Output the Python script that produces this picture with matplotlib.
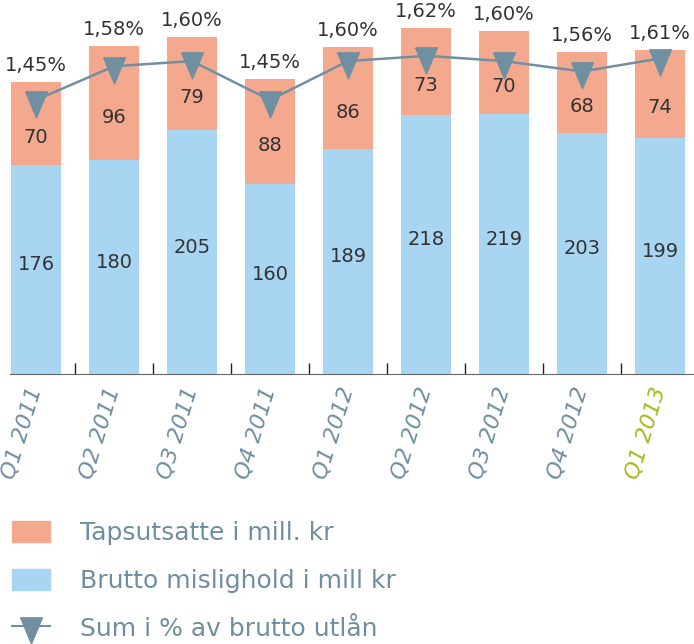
import matplotlib.pyplot as plt
from matplotlib.patches import Patch
from matplotlib.lines import Line2D
import numpy as np

quarters = ["Q1 2011", "Q2 2011", "Q3 2011", "Q4 2011", "Q1 2012",
            "Q2 2012", "Q3 2012", "Q4 2012", "Q1 2013"]
brutto = [176, 180, 205, 160, 189, 218, 219, 203, 199]
tapsutsatte = [70, 96, 79, 88, 86, 73, 70, 68, 74]
sum_pct = [1.45, 1.58, 1.60, 1.45, 1.60, 1.62, 1.60, 1.56, 1.61]

red = "#f4a98e"
blue = "#a8d5f2"
grey_blue = "#7090a2"
label_col = "#6e8fa0"
green = "#a8b820"

# down triangle with the data point in its upper third
tri = [(-1.25, 1), (1.25, 1), (0, -2), (-1.25, 1)]

fig = plt.figure(figsize=(6.94, 6.44), dpi=100)
ax = fig.add_axes([10 / 694, 1 - 374 / 644, 684 / 694, 354 / 644])

x = np.arange(len(quarters))
ax.bar(x, brutto, width=0.64, color=blue, zorder=2)
ax.bar(x, tapsutsatte, width=0.64, bottom=brutto, color=red, zorder=2)

for i in range(len(x)):
    ax.text(x[i], brutto[i] / 2 + 4, str(brutto[i]), ha="center", va="center",
            fontsize=14, color="#333333", zorder=3)
    ax.text(x[i], brutto[i] + tapsutsatte[i] / 2 - 12, str(tapsutsatte[i]),
            ha="center", va="center", fontsize=14, color="#333333", zorder=3)
    top = brutto[i] + tapsutsatte[i]
    ax.annotate(("%.2f%%" % sum_pct[i]).replace(".", ","), (x[i], top),
                xytext=(0, 5), textcoords="offset points", ha="center",
                va="bottom", fontsize=14, color="#333333")

ax.set_xlim(-0.333, 8.436)
ax.set_ylim(0, 298)

for s in ["top", "left", "right"]:
    ax.spines[s].set_visible(False)
ax.spines["bottom"].set_color("#666666")
ax.set_yticks([])

ax.set_xticks(x)
ax.set_xticklabels(quarters, rotation=73, ha="right", va="center",
                   rotation_mode="anchor", fontsize=16, style="italic",
                   color=label_col)
ax.get_xticklabels()[-1].set_color(green)
ax.tick_params(axis="x", which="major", length=0, pad=10)
ax.set_xticks(x[:-1] + 0.5, minor=True)
ax.tick_params(axis="x", which="minor", direction="in", length=8,
               width=1, color="#222222")

ax2 = ax.twinx()
ax2.plot(x, sum_pct, color=grey_blue, lw=1.8, marker=tri, markersize=25,
         zorder=4)
ax2.set_ylim(0.396, 1.758)
ax2.axis("off")

handles = [Patch(color=red), Patch(color=blue),
           Line2D([], [], color=grey_blue, lw=1.5, marker=tri, markersize=25)]
labels = ["Tapsutsatte i mill. kr", "Brutto mislighold i mill kr",
          "Sum i % av brutto utlån"]
leg = fig.legend(handles, labels, loc="upper left",
                 bbox_to_anchor=(12 / 694, 1 - 521 / 644), frameon=False,
                 fontsize=18, handlelength=1.5, handleheight=0.92,
                 handletextpad=1.2, labelspacing=0.95, borderpad=0,
                 borderaxespad=0)
for t in leg.get_texts():
    t.set_color(label_col)

fig.savefig("out.png", dpi=100)
